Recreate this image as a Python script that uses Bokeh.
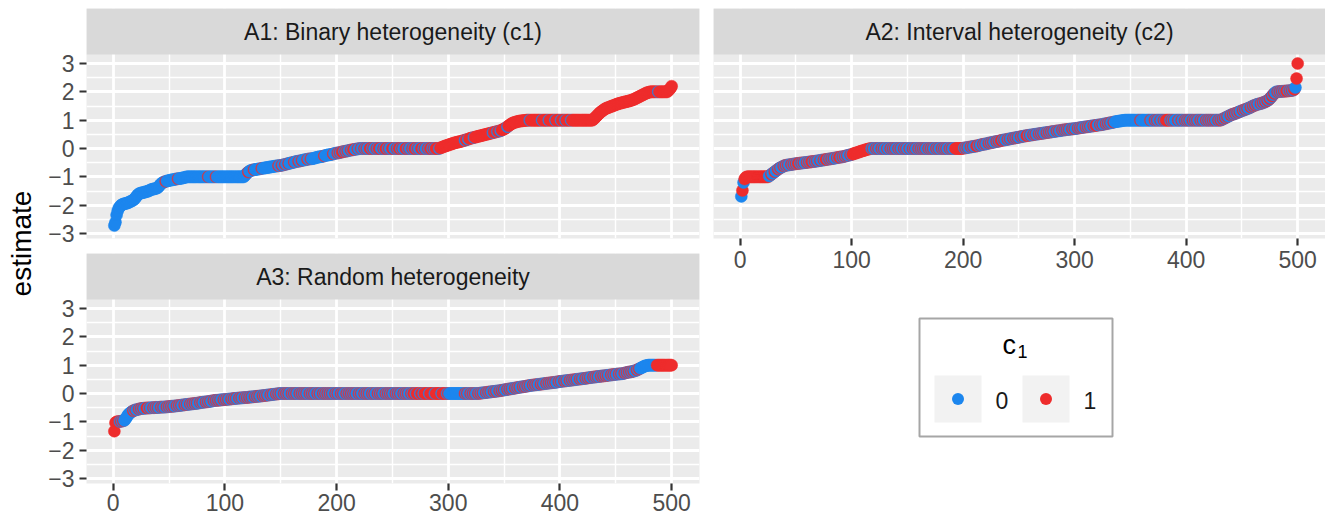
import numpy as np
from bokeh.plotting import figure
from bokeh.models import (Range1d, FixedTicker, ColumnDataSource, LinearAxis, Grid,
                          CustomJSTickFormatter, BoxAnnotation, Label)
from bokeh.transform import factor_cmap
from bokeh.layouts import row, column
from bokeh.embed import file_html
from bokeh.resources import INLINE
from bokeh.core.properties import value

# ---------------- data ----------------
panel_titles = ["A1: Binary heterogeneity (c1)", "A2: Interval heterogeneity (c2)", "A3: Random heterogeneity"]
y_label = "estimate"
legend_title = "c"
legend_title_sub = "1"
groups = ["0", "1"]
group_colors = ["#1C86EE", "#EE2C2C"]
x_ticks = [0, 100, 200, 300, 400, 500]
x_minor = [50, 150, 250, 350, 450]
y_ticks = [-3, -2, -1, 0, 1, 2, 3]
y_minor = [-2.5, -1.5, -0.5, 0.5, 1.5, 2.5]

a1_estimate = [
    -2.72, -2.60, -2.35, -2.20, -2.10, -2.05, -2.00, -1.98,
    -1.96, -1.95, -1.94, -1.93, -1.92, -1.90, -1.88, -1.86, -1.84, -1.82, -1.78, -1.74,
    -1.68, -1.63, -1.60, -1.58, -1.57, -1.56, -1.55, -1.54, -1.53, -1.52,
    -1.51, -1.49, -1.47, -1.45, -1.44, -1.43, -1.42, -1.41, -1.40, -1.38,
    -1.33, -1.28, -1.24, -1.21, -1.19, -1.17, -1.16, -1.15, -1.14, -1.13,
    -1.12, -1.11, -1.10, -1.10, -1.09, -1.08, -1.07, -1.07, -1.06, -1.06, -1.05, -1.04, -1.03, -1.02, -1.01, -1.00,
    -1, -1, -1, -1, -1, -1, -1, -1, -1, -1,
    -1, -1, -1, -1, -1, -1, -1, -1, -1, -1,
    -1, -1, -1, -1, -1, -1, -1, -1, -1, -1,
    -1, -1, -1, -1, -1, -1, -1, -1, -1, -1,
    -1, -1, -1, -1, -1, -1, -1, -1, -1, -1,
    -1,
    -0.95, -0.90, -0.86, -0.83, -0.80, -0.78, -0.77, -0.76,
    -0.75, -0.74, -0.74, -0.73, -0.72, -0.72, -0.71, -0.70, -0.70, -0.69,
    -0.68, -0.68, -0.67, -0.66, -0.66, -0.65, -0.64, -0.64, -0.63, -0.62,
    -0.62, -0.61, -0.61, -0.60, -0.60,
    -0.59, -0.58, -0.57, -0.56, -0.55, -0.54, -0.53, -0.52, -0.51, -0.50,
    -0.49, -0.48, -0.47, -0.46, -0.45, -0.45, -0.44, -0.43, -0.42, -0.41,
    -0.40, -0.40, -0.39, -0.38, -0.37, -0.37, -0.36, -0.36, -0.35,
    -0.34, -0.33, -0.32, -0.31, -0.30, -0.29, -0.29, -0.28, -0.27, -0.26,
    -0.25, -0.24, -0.23, -0.22, -0.22, -0.21, -0.20, -0.19, -0.18, -0.17,
    -0.16, -0.16, -0.15, -0.14,
    -0.13, -0.12, -0.11, -0.10, -0.10, -0.09, -0.08, -0.07, -0.06, -0.05,
    -0.05, -0.04, -0.03, -0.03, -0.02, -0.01, -0.01,
    0, 0, 0, 0, 0, 0, 0, 0, 0, 0,
    0, 0, 0, 0, 0, 0, 0, 0, 0, 0,
    0, 0, 0, 0, 0, 0, 0, 0, 0, 0,
    0, 0, 0, 0, 0, 0, 0, 0, 0, 0,
    0, 0, 0, 0, 0, 0, 0, 0, 0, 0,
    0, 0, 0, 0, 0, 0, 0, 0, 0, 0,
    0, 0, 0, 0, 0, 0, 0, 0, 0, 0,
    0, 0,
    0.02, 0.04, 0.05, 0.07, 0.08, 0.10, 0.11, 0.12, 0.14, 0.15,
    0.16, 0.18, 0.19, 0.20, 0.21, 0.22, 0.23, 0.24, 0.25, 0.26,
    0.27, 0.28, 0.29, 0.31, 0.32, 0.33, 0.35,
    0.36, 0.37, 0.38, 0.39, 0.40, 0.41, 0.42, 0.43, 0.44, 0.45,
    0.46, 0.47, 0.48, 0.49, 0.50, 0.51, 0.52, 0.53, 0.54, 0.55,
    0.56, 0.57, 0.58, 0.59, 0.60, 0.61, 0.62, 0.63, 0.65, 0.67,
    0.69, 0.71, 0.74,
    0.77, 0.80, 0.83, 0.86, 0.88, 0.90, 0.92, 0.93, 0.94, 0.95,
    0.96, 0.97, 0.97, 0.98, 0.98, 0.99, 0.99, 1.00,
    1, 1, 1, 1, 1, 1, 1, 1, 1, 1,
    1, 1, 1, 1, 1, 1, 1, 1, 1, 1,
    1, 1, 1, 1, 1, 1, 1, 1, 1, 1,
    1, 1, 1, 1, 1, 1, 1, 1, 1, 1,
    1, 1, 1, 1, 1, 1, 1, 1, 1, 1,
    1, 1, 1, 1, 1, 1, 1, 1, 1,
    1.03, 1.07, 1.11, 1.15, 1.19, 1.23, 1.27, 1.30, 1.33, 1.36, 1.39, 1.41,
    1.43, 1.44, 1.46, 1.47, 1.49, 1.50, 1.52, 1.53, 1.55, 1.56, 1.58, 1.59,
    1.60, 1.61, 1.62, 1.63, 1.64, 1.65, 1.66, 1.67, 1.68, 1.69, 1.70, 1.72, 1.73, 1.75, 1.77,
    1.79, 1.81, 1.83, 1.85, 1.87, 1.89, 1.91, 1.93, 1.95, 1.97, 1.98, 1.99,
    2, 2, 2, 2, 2, 2, 2, 2, 2, 2, 2, 2, 2, 2, 2, 2,
    2.04, 2.08, 2.13, 2.20,
]
a1_c1 = (
    "0000000000" "0000000000" "0000000000" "0000000000" "0000001000"
    "0000000100" "0000000000" "0000000000" "0000100000" "0100000000"
    "0000000000" "0000000000" "1000010000" "0010000000" "0000000100"
    "1001001000" "0100010010" "0001001000" "0000000010" "0000001000"
    "1010110101" "0010110010" "0100101001" "1010010110" "0101101001"
    "1001011010" "0110100101" "1010011010" "0101101011" "1011111111"
    "1111111111" "1111011011" "1101111111" "1111111110" "1110110111"
    "1101111111" "1111111111" "1101111111" "1110111110" "1111101111"
    "0111011110" "1111111111" "1111111111" "1111111111" "1111111111"
    "1111111111" "1111111111" "1111111111" "1111111011" "1111111111"
)

a2_estimate = [
    -1.69, -1.48, -1.20, -1.08, -1.02,
    -1, -1, -1, -1, -1, -1, -1, -1, -1, -1,
    -1, -1, -1, -1, -1, -1, -1, -1, -1, -1,
    -0.97, -0.94, -0.91, -0.88, -0.85, -0.82, -0.79, -0.76, -0.73, -0.70,
    -0.68, -0.66, -0.64, -0.62, -0.60,
    -0.59, -0.59, -0.58, -0.57, -0.57, -0.56, -0.56, -0.55, -0.54, -0.54, -0.53,
    -0.53, -0.52, -0.52, -0.51, -0.51, -0.50, -0.50, -0.49, -0.49, -0.48,
    -0.48, -0.47, -0.47, -0.46, -0.46, -0.45, -0.45, -0.44, -0.43, -0.43,
    -0.42,
    -0.41, -0.41, -0.40, -0.40, -0.39, -0.38, -0.38, -0.37, -0.36, -0.36,
    -0.35, -0.34, -0.34, -0.33, -0.32, -0.32, -0.31, -0.30, -0.30, -0.29,
    -0.28,
    -0.27, -0.26, -0.25, -0.24, -0.23, -0.22, -0.21, -0.20, -0.18, -0.17, -0.16, -0.14,
    -0.13, -0.12, -0.10, -0.09, -0.08, -0.07, -0.05, -0.04, -0.03, -0.02, -0.01, 0,
    0, 0, 0, 0, 0, 0, 0, 0, 0, 0,
    0, 0, 0, 0, 0, 0, 0, 0, 0, 0,
    0, 0, 0, 0, 0, 0, 0, 0, 0, 0,
    0, 0, 0, 0, 0, 0, 0, 0, 0, 0,
    0, 0, 0, 0, 0, 0, 0, 0, 0, 0,
    0, 0, 0, 0, 0, 0, 0, 0, 0, 0,
    0, 0, 0, 0, 0, 0, 0, 0, 0, 0,
    0, 0, 0, 0, 0, 0, 0, 0, 0, 0,
    0, 0,
    0.01, 0.02, 0.02, 0.03, 0.04, 0.04, 0.05, 0.06, 0.06, 0.07, 0.08, 0.08, 0.09, 0.10,
    0.11, 0.12, 0.13, 0.14, 0.15, 0.15, 0.16, 0.17, 0.18, 0.19,
    0.20, 0.20, 0.21, 0.22, 0.23, 0.24, 0.25, 0.25, 0.26, 0.27,
    0.28,
    0.29, 0.30, 0.30, 0.31, 0.32, 0.33, 0.33, 0.34, 0.35, 0.36,
    0.36, 0.37, 0.38, 0.39, 0.39, 0.40, 0.41, 0.42, 0.42, 0.43,
    0.44, 0.45, 0.45, 0.46,
    0.47, 0.47, 0.48, 0.48, 0.49, 0.50, 0.50, 0.51, 0.51, 0.52,
    0.53, 0.53, 0.54, 0.54, 0.55, 0.56, 0.56, 0.57, 0.57, 0.58,
    0.59, 0.59, 0.60, 0.60, 0.61, 0.62, 0.62, 0.63, 0.63, 0.64,
    0.65, 0.65, 0.66, 0.66, 0.67, 0.67, 0.68, 0.68, 0.69, 0.69,
    0.70, 0.70,
    0.71, 0.71, 0.72, 0.73, 0.73, 0.74, 0.74, 0.75, 0.76, 0.76,
    0.77, 0.77, 0.78, 0.79, 0.79, 0.80, 0.80, 0.81, 0.81, 0.82,
    0.83, 0.83, 0.84, 0.84, 0.85,
    0.86, 0.87, 0.87, 0.88, 0.89, 0.90, 0.91, 0.91, 0.92, 0.93,
    0.94, 0.95, 0.95, 0.96, 0.97, 0.97, 0.98, 0.99, 0.99, 1.00,
    1, 1, 1, 1, 1, 1, 1, 1, 1, 1,
    1, 1, 1, 1, 1, 1, 1, 1, 1, 1,
    1, 1, 1, 1, 1, 1, 1, 1, 1, 1,
    1, 1, 1, 1, 1, 1, 1, 1, 1, 1,
    1, 1, 1, 1, 1, 1, 1, 1, 1, 1,
    1, 1, 1, 1, 1, 1, 1, 1, 1, 1,
    1, 1, 1, 1, 1, 1, 1, 1, 1, 1,
    1, 1, 1, 1, 1, 1, 1, 1, 1, 1,
    1, 1, 1, 1, 1, 1,
    1.02, 1.04, 1.06, 1.08, 1.10, 1.12, 1.14, 1.16, 1.18, 1.20, 1.21, 1.22, 1.24, 1.25, 1.27,
    1.28, 1.30, 1.32, 1.33, 1.35, 1.36, 1.38, 1.39, 1.41, 1.42, 1.44, 1.46, 1.48, 1.50, 1.52,
    1.53, 1.55, 1.56, 1.57, 1.58, 1.59, 1.60, 1.62, 1.63, 1.65, 1.67, 1.69,
    1.72, 1.76, 1.80, 1.85, 1.90, 1.94, 1.98,
    2.00, 2.00, 2.01, 2.01, 2.01, 2.02, 2.02, 2.02, 2.03, 2.03,
    2.03, 2.04, 2.04, 2.05, 2.05, 2.06, 2.08,
    2.15, 2.47, 3.00,
]
a2_c1 = (
    "0101111111" "1111111111" "1111100100" "1001010010" "1010010101"
    "0110101001" "0101101010" "0100101101" "0101001011" "0101010010"
    "1111111111" "1111111010" "0101001010" "0100101010" "0101001010"
    "0100101001" "0101010010" "1010010100" "1010100101" "0011111111"
    "0101001010" "0110100101" "0010101001" "0101101001" "0100101010"
    "0101001101" "0010100101" "0100101010" "1001010010" "1010100101"
    "0010101001" "0101001011" "0010100101" "0100100000" "0000000000"
    "0000000010" "0000000100" "0101001001" "0111101010" "0010010010"
    "1010010101" "0010100101" "0101010010" "1010101001" "0101010100"
    "1010100101" "0101001010" "1010101010" "0101010101" "1010101011"
)

a3_estimate = [
    -1.33, -1.03, -1.00, -1.00, -0.99, -0.99, -0.98, -0.97, -0.96, -0.95,
    -0.90, -0.84, -0.77, -0.72, -0.69, -0.66,
    -0.63, -0.61, -0.59, -0.58, -0.57, -0.56, -0.55, -0.54, -0.53,
    -0.53, -0.52, -0.52, -0.52, -0.51, -0.51, -0.51, -0.51, -0.50, -0.50,
    -0.50, -0.50, -0.49, -0.49, -0.49, -0.49, -0.48, -0.48, -0.48, -0.48,
    -0.48,
    -0.47, -0.47, -0.47, -0.46, -0.46, -0.45, -0.45, -0.45, -0.44, -0.44,
    -0.43, -0.43, -0.42, -0.42,
    -0.41, -0.41, -0.40, -0.40, -0.39, -0.39, -0.38, -0.38, -0.37, -0.37,
    -0.36, -0.36, -0.35, -0.35, -0.34, -0.34, -0.33, -0.32, -0.32, -0.31,
    -0.31, -0.30, -0.30, -0.29, -0.29, -0.28, -0.27, -0.27, -0.26, -0.25,
    -0.25, -0.24, -0.24, -0.24, -0.23, -0.23, -0.22, -0.22, -0.22, -0.21,
    -0.21, -0.20, -0.20, -0.20, -0.19, -0.19, -0.18, -0.18, -0.18, -0.17,
    -0.17, -0.16, -0.16, -0.16, -0.15, -0.15, -0.15, -0.14, -0.14, -0.14,
    -0.13, -0.13, -0.12, -0.12, -0.12, -0.11, -0.11, -0.10, -0.10, -0.10,
    -0.09, -0.09, -0.08, -0.08, -0.07, -0.07, -0.06, -0.06, -0.05, -0.05,
    -0.04, -0.04, -0.03, -0.03, -0.02, -0.02, -0.01, -0.01, 0,
    0, 0, 0, 0, 0, 0, 0, 0, 0, 0,
    0, 0, 0, 0, 0, 0, 0, 0, 0, 0,
    0, 0, 0, 0, 0, 0, 0, 0, 0, 0,
    0, 0, 0, 0, 0, 0, 0, 0, 0, 0,
    0, 0, 0, 0, 0, 0, 0, 0, 0, 0,
    0, 0, 0, 0, 0, 0, 0, 0, 0, 0,
    0, 0, 0, 0, 0, 0, 0, 0, 0, 0,
    0, 0, 0, 0, 0, 0, 0, 0, 0, 0,
    0, 0, 0, 0, 0, 0, 0, 0, 0, 0,
    0, 0, 0, 0, 0, 0, 0, 0, 0, 0,
    0, 0, 0, 0, 0, 0, 0, 0, 0, 0,
    0, 0, 0, 0, 0, 0, 0, 0, 0, 0,
    0, 0, 0, 0, 0, 0, 0, 0, 0, 0,
    0, 0, 0, 0, 0, 0, 0, 0, 0, 0,
    0, 0, 0, 0, 0, 0, 0, 0, 0, 0,
    0, 0, 0, 0, 0, 0, 0, 0, 0, 0,
    0, 0, 0, 0, 0, 0, 0, 0, 0, 0,
    0, 0, 0, 0, 0, 0, 0, 0,
    0.01, 0.01, 0.02, 0.02, 0.03, 0.03, 0.04, 0.04, 0.05, 0.05,
    0.06, 0.06, 0.07, 0.07, 0.08, 0.08, 0.09, 0.09, 0.10,
    0.11, 0.11, 0.12, 0.13, 0.13, 0.14, 0.15, 0.15, 0.16, 0.17,
    0.17, 0.18, 0.19, 0.19, 0.20, 0.21, 0.21, 0.22, 0.23, 0.23,
    0.24, 0.25, 0.25, 0.26, 0.27, 0.27, 0.28,
    0.29, 0.29, 0.30, 0.30, 0.31, 0.31, 0.32, 0.32, 0.33, 0.33,
    0.34, 0.34, 0.35, 0.35, 0.36, 0.36, 0.37, 0.37, 0.38, 0.38,
    0.39, 0.39, 0.40, 0.40, 0.41, 0.42,
    0.42, 0.43, 0.43, 0.44, 0.44, 0.45, 0.45, 0.46, 0.46, 0.47,
    0.47, 0.48, 0.48, 0.49, 0.49, 0.50, 0.50, 0.51, 0.51, 0.52,
    0.52, 0.53, 0.53, 0.54, 0.54, 0.55, 0.56,
    0.56, 0.57, 0.57, 0.58, 0.58, 0.59, 0.59, 0.60, 0.60, 0.61,
    0.61, 0.62, 0.62, 0.63, 0.63, 0.64, 0.64, 0.65, 0.65, 0.66,
    0.66, 0.67, 0.67, 0.68, 0.68, 0.69, 0.69, 0.69, 0.70, 0.70,
    0.71, 0.72, 0.73, 0.74, 0.75, 0.76, 0.76, 0.77, 0.78, 0.79, 0.80, 0.81,
    0.83, 0.85, 0.87, 0.89, 0.91, 0.93, 0.95, 0.97, 0.98, 0.99, 1.00, 1.00,
    1, 1, 1, 1, 1, 1, 1, 1, 1, 1,
    1, 1, 1, 1, 1, 1, 1, 1, 1, 1,
]
a3_c1 = (
    "1111101010" "0000000101" "0010101001" "1010010101" "0010100101"
    "0101001010" "1001010010" "1010100101" "0010101001" "0101010010"
    "1010010101" "0010100101" "0101001010" "1001010100" "1010010101"
    "0010101001" "0101001010" "1010010101" "0010100101" "0101010010"
    "1001010010" "1010101001" "0100101010" "0101001010" "1001010101"
    "0010101001" "0101001011" "0111011011" "1101111011" "1110111101"
    "0000000000" "0000101001" "0101001010" "1001010100" "1010010101"
    "0010101001" "0101001010" "1010010101" "0010100101" "0101010010"
    "1001010010" "1010100101" "0010101001" "0101001010" "1010010101"
    "0010100101" "0101010010" "1000000000" "0000001111" "1111111111"
)

for _name, _v, _c in [("a1", a1_estimate, a1_c1), ("a2", a2_estimate, a2_c1), ("a3", a3_estimate, a3_c1)]:
    assert len(_v) == 500 and len(_c) == 500, (_name, len(_v), len(_c))

# ---------------- styling ----------------
FONT = "Liberation Sans"
PANEL_BG = "#EBEBEB"
STRIP_BG = "#D9D9D9"
FRAME_W_LEFT = 613
FRAME_W_RIGHT = 612
FRAME_H = 184
STRIP_H = 46
GAP = 14
TOP = 8
LEFT = 38

X_LO, X_HI = -23.95, 524.95
Y_LO, Y_HI = -3.176, 3.318
Y_TOP = Y_HI + (Y_HI - Y_LO) * STRIP_H / FRAME_H   # strip band above the panel

x_range = Range1d(X_LO, X_HI)
y_range = Range1d(Y_LO, Y_TOP)

minus_fmt = "return tick < 0 ? '\u2212' + (-tick) : '' + tick;"


def style_axis(ax, standoff):
    ax.formatter = CustomJSTickFormatter(code=minus_fmt)
    ax.axis_line_color = None
    ax.major_tick_line_color = "#333333"
    ax.major_tick_line_width = 2.2
    ax.major_tick_out = 7
    ax.major_tick_in = 0
    ax.minor_tick_line_color = None
    ax.major_label_text_font = FONT
    ax.major_label_text_font_size = "23px"
    ax.major_label_text_color = "#4D4D4D"
    ax.major_label_standoff = standoff


def make_panel(values, flags, title, frame_w, left, right, top, bottom, show_x, show_y, x_standoff=5):
    p = figure(frame_width=frame_w, frame_height=FRAME_H + STRIP_H, x_range=x_range, y_range=y_range,
               x_axis_type=None, y_axis_type=None, toolbar_location=None,
               output_backend="svg", min_border_left=left, min_border_right=right,
               min_border_top=top, min_border_bottom=bottom)
    p.outline_line_color = None
    p.background_fill_color = PANEL_BG
    p.border_fill_color = "white"
    p.add_layout(Grid(dimension=0, ticker=FixedTicker(ticks=x_ticks, minor_ticks=x_minor),
                      grid_line_color="white", grid_line_width=2.8,
                      minor_grid_line_color="white", minor_grid_line_width=1.4))
    p.add_layout(Grid(dimension=1, ticker=FixedTicker(ticks=y_ticks, minor_ticks=y_minor),
                      grid_line_color="white", grid_line_width=2.8,
                      minor_grid_line_color="white", minor_grid_line_width=1.4))
    if show_x:
        ax = LinearAxis(ticker=FixedTicker(ticks=x_ticks, minor_ticks=x_minor))
        style_axis(ax, x_standoff)
        p.add_layout(ax, "below")
    if show_y:
        ay = LinearAxis(ticker=FixedTicker(ticks=y_ticks, minor_ticks=y_minor))
        style_axis(ay, 5)
        p.add_layout(ay, "left")
    src = ColumnDataSource(data=dict(x=np.arange(1, len(values) + 1), y=values, g=list(flags)))
    p.scatter("x", "y", source=src, size=12,
              fill_color=factor_cmap("g", group_colors, groups),
              line_color=factor_cmap("g", group_colors, groups), line_width=0.5)
    # facet strip
    p.add_layout(BoxAnnotation(bottom=Y_HI, fill_color=STRIP_BG, fill_alpha=1.0, line_color=None))
    p.add_layout(Label(x=(X_LO + X_HI) / 2, y=(Y_HI + Y_TOP) / 2, text=title, text_align="center",
                       text_baseline="middle", text_font=FONT, text_font_size="23px",
                       text_color="#1A1A1A"))
    return p


p1 = make_panel(a1_estimate, a1_c1, panel_titles[0], FRAME_W_LEFT, 48, GAP, TOP, 15, False, True)
p3 = make_panel(a3_estimate, a3_c1, panel_titles[2], FRAME_W_LEFT, 48, GAP, 0, 34, True, True, x_standoff=3)
p2 = make_panel(a2_estimate, a2_c1, panel_titles[1], FRAME_W_RIGHT, 0, 0, TOP, 45, True, False)

# legend
LG_H = 220
lg = figure(frame_width=FRAME_W_RIGHT, frame_height=LG_H, x_range=Range1d(0, FRAME_W_RIGHT),
            y_range=Range1d(0, LG_H), x_axis_type=None, y_axis_type=None, toolbar_location=None,
            output_backend="svg", min_border=0)
lg.outline_line_color = None
lg.background_fill_color = "white"
lg.border_fill_color = "white"
box_l, box_r, box_t, box_b = 206, 399, 185, 67
lg.quad(left=[box_l], right=[box_r], top=[box_t], bottom=[box_b], fill_color="white",
        line_color="#A6A6A6", line_width=2)
key = 47
key_step = 88
key_left = [221 + key_step * i for i in range(len(groups))]
key_bottom, key_top = 81, 128
key_mid = (key_top + key_bottom) / 2
lg.quad(left=key_left, right=[k + key for k in key_left], top=key_top, bottom=key_bottom,
        fill_color="#F2F2F2", line_color=None)
lg.scatter(x=[k + key / 2 for k in key_left], y=key_mid, size=12,
           fill_color=group_colors, line_color=None)
lg.text(x=[k + key + 14 for k in key_left], y=key_mid - 1, text=groups, text_font=value(FONT),
        text_font_size="23px", text_baseline="middle", text_align="left", text_color="#1A1A1A")
lg.text(x=[289], y=[159], text=[legend_title], text_font=value(FONT), text_font_size="27px",
        text_baseline="middle", text_align="left", text_color="black")
lg.text(x=[304], y=[152], text=[legend_title_sub], text_font=value(FONT), text_font_size="18px",
        text_baseline="middle", text_align="left", text_color="black")

# y-axis title
LAB_H = 483
lab = figure(frame_width=LEFT, frame_height=LAB_H, x_range=Range1d(0, LEFT), y_range=Range1d(0, LAB_H),
             x_axis_type=None, y_axis_type=None, toolbar_location=None, output_backend="svg",
             min_border=0)
lab.outline_line_color = None
lab.background_fill_color = "white"
lab.border_fill_color = "white"
lab.text(x=[21], y=[LAB_H - 243], text=[y_label], angle=np.pi / 2, text_align="center",
         text_baseline="middle", text_font=value(FONT), text_font_size="28px", text_color="black")

layout = row(lab, column(p1, p3), column(p2, lg))

open("out.html", "w").write(file_html(layout, INLINE))
